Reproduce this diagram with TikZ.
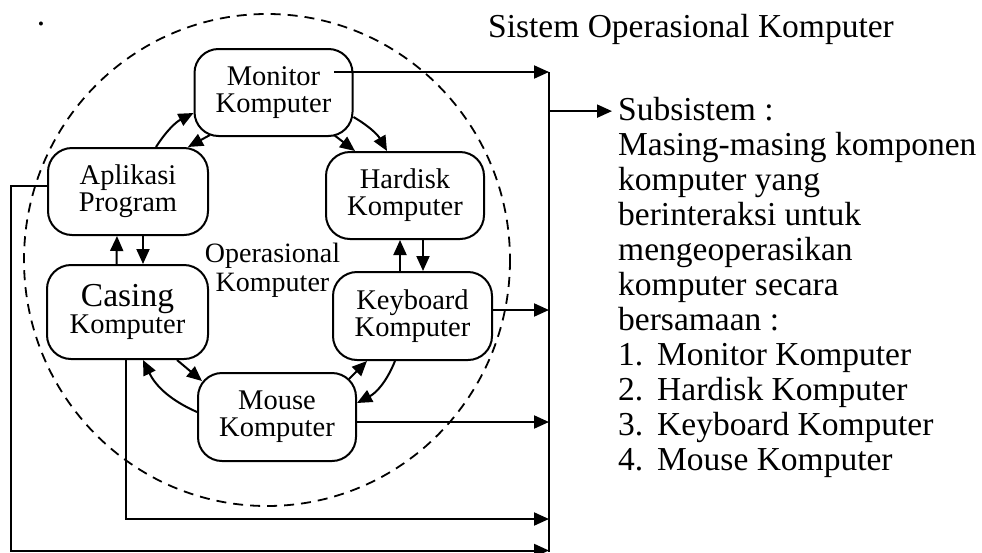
\documentclass[tikz,border=0pt]{standalone}
\usepackage{fontspec}
\setmainfont{Liberation Serif}
\usetikzlibrary{arrows.meta,calc}
\newcommand{\kompfont}{\fontsize{28.5}{27}\selectfont}
\newcommand{\teksfont}{\fontsize{33.5}{35}\selectfont}
\newcommand{\nomor}[1]{\makebox[39pt][l]{#1}}
\tikzset{
  box/.style={draw, line width=2pt, rounded corners=24pt, minimum width=158pt, minimum height=87pt, align=center, font=\kompfont, inner sep=0pt},
  arr/.style={line width=2pt, -{Triangle[length=15pt,width=13pt]}},
}
\begin{document}
\begin{tikzpicture}[x=1pt,y=-1pt]
	\useasboundingbox (0,0) rectangle (982,552);
	%\draw[help lines] (0,0) grid (982,552);
	%LINGKARAN
	\draw[line width=1.8pt, dash pattern=on 10pt off 7pt] (267,260) ellipse [x radius=243, y radius=246];
	
	%KOTAK
	\node[box] (monitor) at (273.5,92.5) {Monitor\\Komputer};
	\node[box, minimum width=160pt] (aplikasi) at (128,191.5) {Aplikasi\\Program};
	\node[box] (hardisk) at (405,195.5) {Hardisk\\Komputer};
	\node[box, minimum width=161pt, minimum height=94pt] (casing) at (127.5,312) {{\fontsize{33.5}{27}\selectfont Casing}\\Komputer};
	\node[box, minimum width=159pt, minimum height=88pt] (keyboard) at (412.5,316) {Keyboard\\Komputer};
	\node[box, minimum height=88pt] (mouse) at (277,417) {Mouse\\Komputer};
	\node[align=center, inner sep=0pt, font=\fontsize{28}{29}\selectfont] (pusat) at (272.5,270) {Operasional\\Komputer};
	
	%PANAH DALAM
	\draw[arr] ([xshift=28pt]aplikasi.north) to[bend left=15] ([yshift=-20.5pt]monitor.west);
	\draw[arr] ([xshift=-63.5pt,yshift=2pt]monitor.south) -- ([xshift=60pt]aplikasi.north);
	\draw[arr] ([xshift=60.5pt,yshift=2pt]monitor.south) -- ([xshift=-50pt]hardisk.north);
	\draw[arr] ([yshift=-24.5pt]monitor.east) to[bend left=15] ([xshift=-18pt]hardisk.north);
	\draw[arr] ([xshift=-11pt]casing.north) -- ([xshift=-11pt]aplikasi.south);
	\draw[arr] ([xshift=15pt]aplikasi.south) -- ([xshift=15.5pt]casing.north);
	\draw[arr] ([xshift=-12.5pt]keyboard.north) -- ([xshift=-5pt]hardisk.south);
	\draw[arr] ([xshift=18pt]hardisk.south) -- ([xshift=10.5pt]keyboard.north);
	\draw[arr] ([xshift=49.5pt]casing.south) -- ([xshift=5pt,yshift=-9pt]mouse.north west);
	\draw[arr] ([yshift=5pt]mouse.west) to[bend left=20] ([xshift=15.5pt]casing.south);
	\draw[arr] ([xshift=-8pt,yshift=-7pt]mouse.north east) -- ([xshift=-45.5pt]keyboard.south);
	\draw[arr] ([xshift=-17.5pt]keyboard.south) to[bend left=20] ([yshift=14pt]mouse.east);
	
	%GARIS KANAN
	\coordinate (bus) at (549,72);
	\coordinate (busend) at (549,552);
	\coordinate (lowA) at (549,519);
	\coordinate (lowB) at (549,550.5);
	\draw[line width=2pt] (bus) -- (busend);
	\draw[arr] ([xshift=60.5pt,yshift=20.5pt]monitor.center) coordinate (monout) -- (monout -| bus);
	\draw[arr] ([yshift=6pt]keyboard.east) coordinate (kbout) -- (kbout -| bus);
	\draw[arr] ([yshift=-5pt]mouse.east) coordinate (msout) -- (msout -| bus);
	\draw[arr] ([xshift=-1.5pt]casing.south) |- (lowA);
	\draw[arr] ([yshift=5.5pt]aplikasi.west) -- ++(-36,0) |- (lowB);
	
	%TEKS
	\node[anchor=base, inner sep=0pt, font=\teksfont] (titik) at (41,25) {.};
	\node[anchor=base west, inner sep=0pt, font=\teksfont] (judul) at (488,37) {Sistem Operasional Komputer};
	\foreach \baris [count=\i from 0] in {Subsistem :, Masing-masing komponen, komputer yang, berinteraksi untuk, mengeoperasikan, komputer secara, bersamaan :, \nomor{1.}Monitor Komputer, \nomor{2.}Hardisk Komputer, \nomor{3.}Keyboard Komputer, \nomor{4.}Mouse Komputer}
		\node[anchor=base west, inner sep=0pt, font=\teksfont] (sub\i) at (618,120+35*\i) {\baris};
	\draw[arr] ([yshift=-2.5pt]sub0.west -| bus) -- ([xshift=-6pt,yshift=-2.5pt]sub0.west);
\end{tikzpicture}
\end{document}
